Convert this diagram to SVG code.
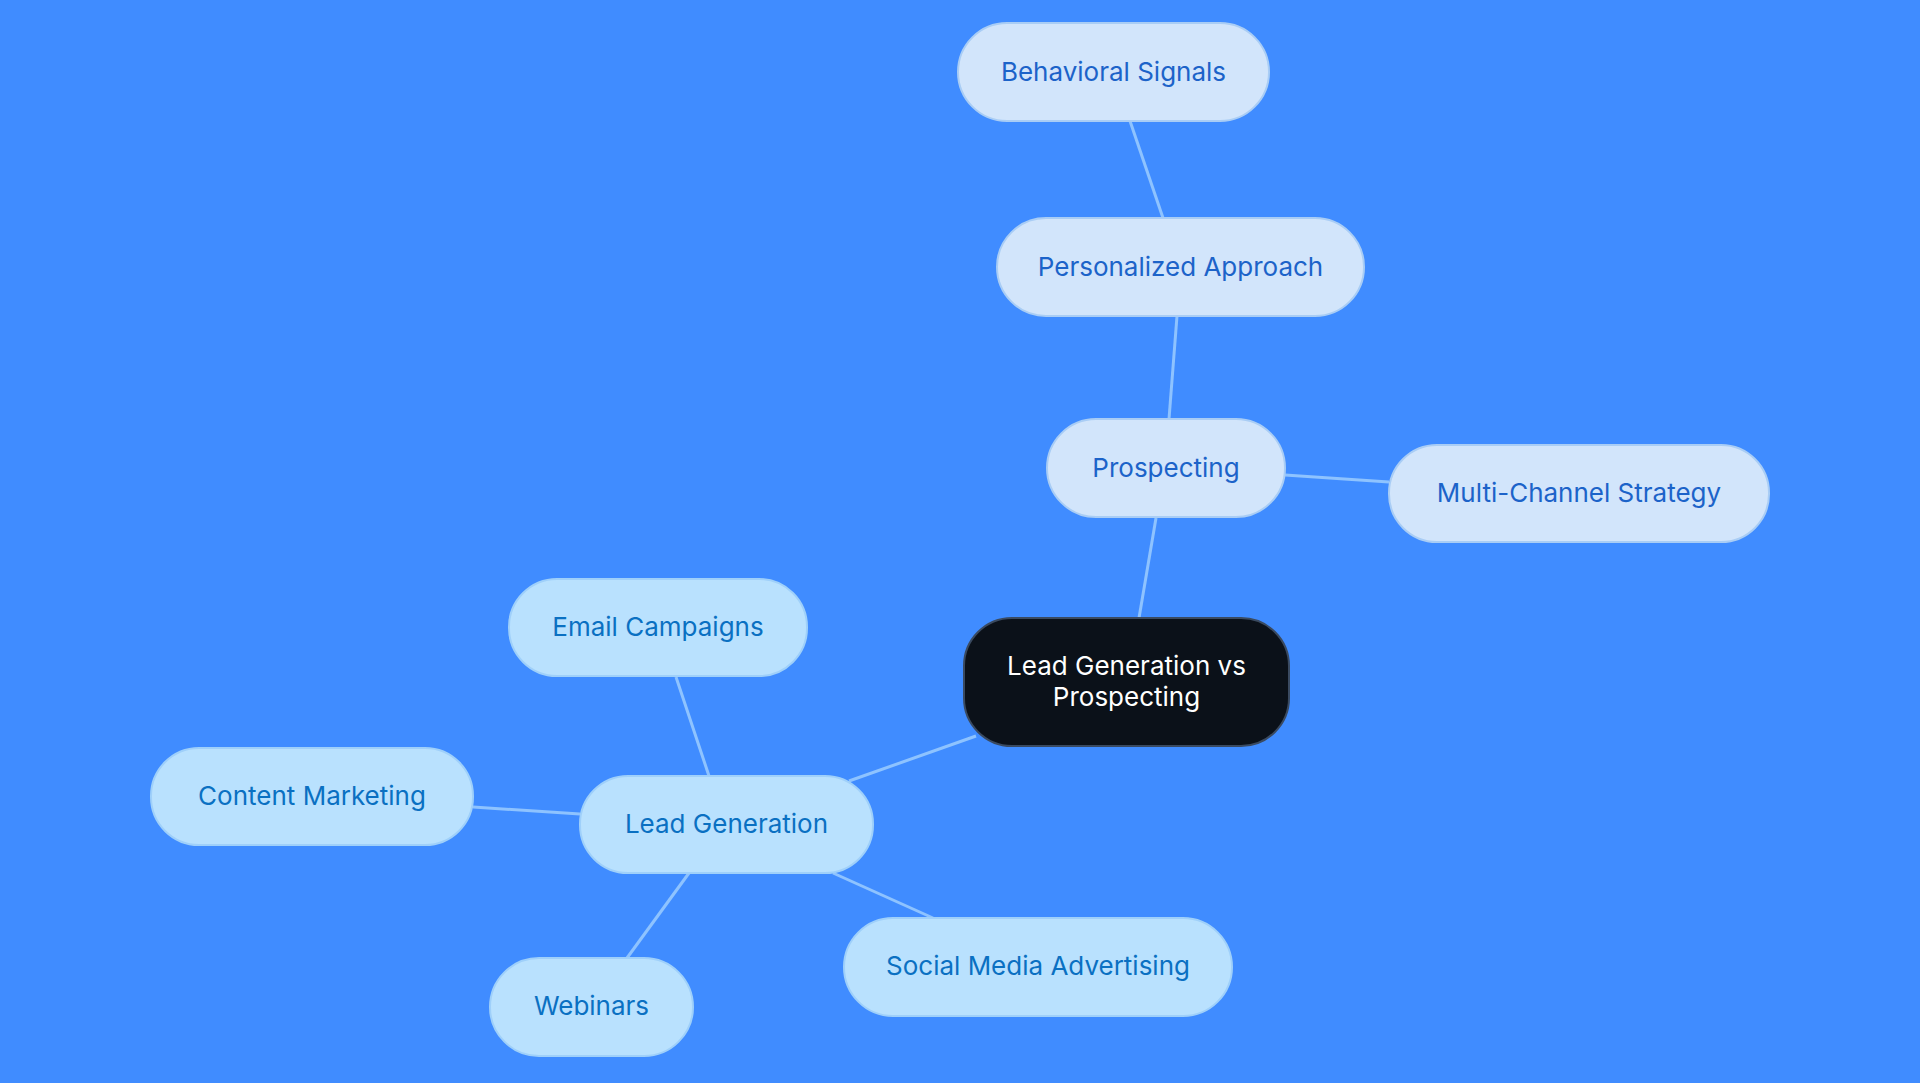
<svg xmlns="http://www.w3.org/2000/svg" width="1920" height="1083" viewBox="0 0 1920 1083">
<style>
.c{stroke:#8ec3ff;stroke-width:3;fill:none}
.p rect{fill:#d2e5fb;stroke:#a9cdf5;stroke-width:2}
.p text{fill:#1c63c9}
.l rect{fill:#b9e1fe;stroke:#9fd0fa;stroke-width:2}
.l text{fill:#0a70c2}
text{font-family:Inter,"Liberation Sans",sans-serif;font-size:26px;text-anchor:middle;dominant-baseline:central}
</style>
<rect width="1920" height="1083" fill="#408cff"/>
<g id="connectors">
<line class="c" x1="1139" y1="618" x2="1156" y2="518"/>
<line class="c" x1="1169" y1="419" x2="1177" y2="316"/>
<line class="c" x1="1163" y1="218" x2="1130" y2="121"/>
<line class="c" x1="1285" y1="475" x2="1389" y2="482"/>
<line class="c" x1="976" y1="736" x2="849" y2="781"/>
<line class="c" x1="709" y1="776" x2="676" y2="677"/>
<line class="c" x1="580" y1="814" x2="473" y2="807"/>
<line class="c" x1="689" y1="873" x2="627" y2="958"/>
<line class="c" x1="833" y1="873" x2="933" y2="918"/>
</g>
<g id="center"><rect x="964" y="618" width="325" height="128" rx="48" fill="#0b1119" stroke="#3a4a60" stroke-width="2"/><text x="1126.5" y="665" fill="#fff">Lead Generation vs</text><text x="1126.5" y="696" fill="#fff">Prospecting</text></g>
<g id="prospecting" class="p"><rect x="1047" y="419" width="238" height="98" rx="49"/><text x="1166" y="467">Prospecting</text></g>
<g id="personalized" class="p"><rect x="997" y="218" width="367" height="98" rx="49"/><text x="1180.5" y="266">Personalized Approach</text></g>
<g id="behavioral" class="p"><rect x="958" y="23" width="311" height="98" rx="49"/><text x="1113.5" y="71">Behavioral Signals</text></g>
<g id="multichannel" class="p"><rect x="1389" y="445" width="380" height="97" rx="48"/><text x="1579" y="492">Multi-Channel Strategy</text></g>
<g id="leadgen" class="l"><rect x="580" y="776" width="293" height="97" rx="48"/><text x="726.5" y="823">Lead Generation</text></g>
<g id="email" class="l"><rect x="509" y="579" width="298" height="97" rx="48"/><text x="658" y="626">Email Campaigns</text></g>
<g id="content" class="l"><rect x="151" y="748" width="322" height="97" rx="48"/><text x="312" y="795">Content Marketing</text></g>
<g id="webinars" class="l"><rect x="490" y="958" width="203" height="98" rx="49"/><text x="591.5" y="1005">Webinars</text></g>
<g id="social" class="l"><rect x="844" y="918" width="388" height="98" rx="49"/><text x="1038" y="965">Social Media Advertising</text></g>
</svg>
